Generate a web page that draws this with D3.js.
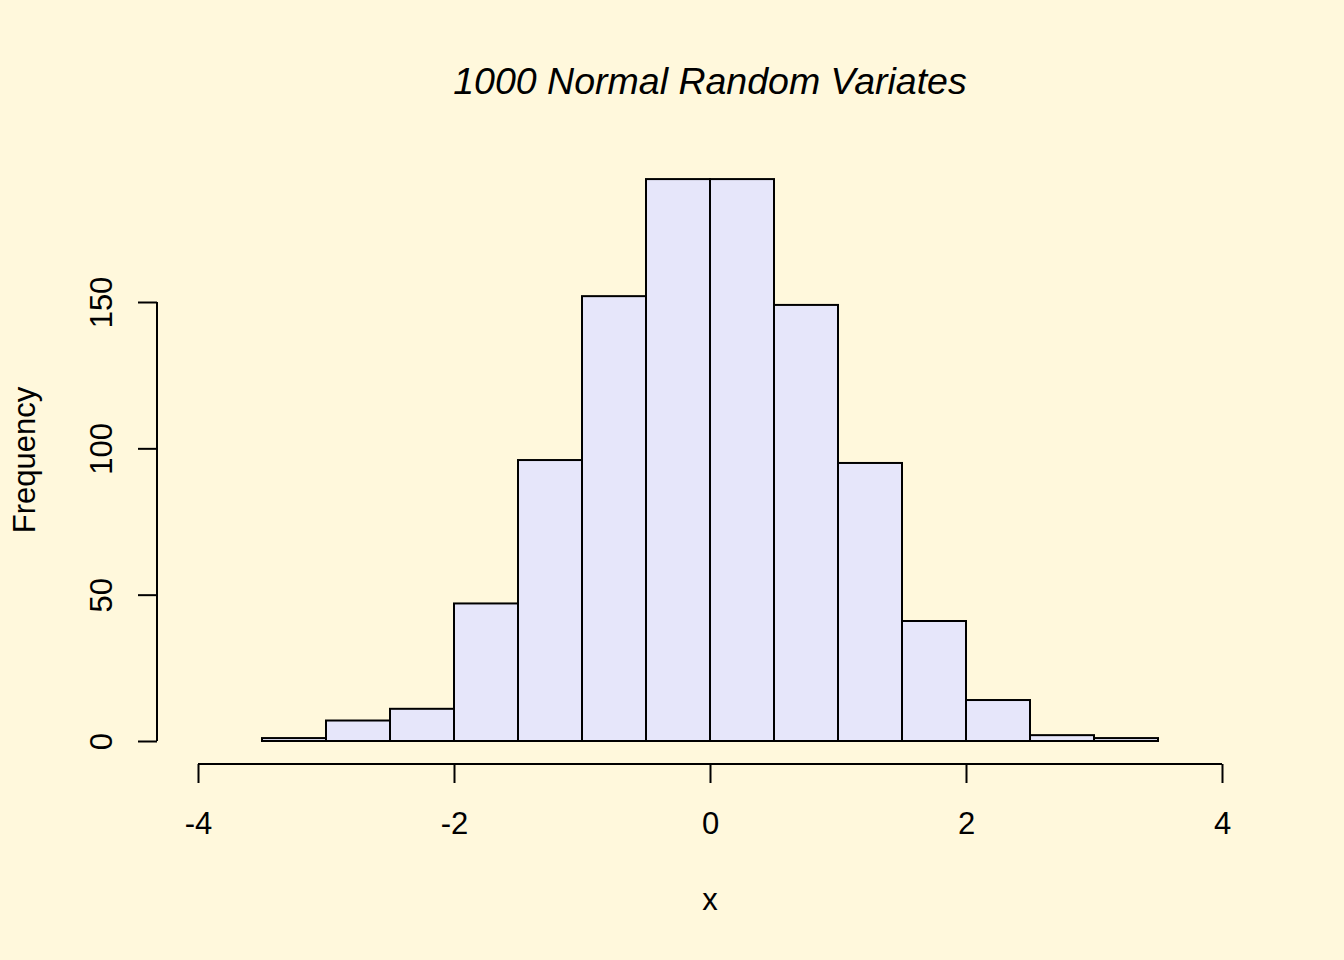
<!DOCTYPE html>
<html><head><meta charset="utf-8">
<script src="https://cdn.jsdelivr.net/npm/d3@7"></script>
<style>body{margin:0;background:#FFF8DC;} svg{display:block;}</style>
</head><body>
<script>
const binStarts = [-3.5,-3,-2.5,-2,-1.5,-1,-0.5,0,0.5,1,1.5,2,2.5,3];
const binWidth = 0.5;
const counts = [1,7,11,47,96,152,192,192,149,95,41,14,2,1];
const xTicks = [-4,-2,0,2,4];
const yTicks = [0,50,100,150];
const title = "1000 Normal Random Variates";
const xLabel = "x", yLabel = "Frequency";

const W = 1344, H = 960;
const svg = d3.select("body").append("svg").attr("width", W).attr("height", H);
svg.append("rect").attr("width", W).attr("height", H).attr("fill", "#FFF8DC");

const x = d3.scaleLinear().domain([-4, 4]).range([198, 1222]);
const y = d3.scaleLinear().domain([0, 150]).range([741, 302]);
const font = "Liberation Sans, Arial, sans-serif";
const fs = 31;

svg.append("g").selectAll("rect").data(binStarts).join("rect")
  .attr("x", (d) => x(d))
  .attr("width", (d) => x(d + binWidth) - x(d))
  .attr("y", (d, i) => y(counts[i]))
  .attr("height", (d, i) => y(0) - y(counts[i]))
  .attr("fill", "#E6E6FA").attr("stroke", "#000").attr("stroke-width", 2);

// x axis
const gx = svg.append("g").attr("transform", "translate(0,764)")
  .call(d3.axisBottom(x).tickValues(xTicks).tickSize(19).tickFormat(d3.format("d")));
gx.select(".domain").attr("stroke-width", 2).attr("d", `M${x(-4)},0H${x(4)}`);
gx.selectAll(".tick line").attr("stroke-width", 2);
gx.selectAll("text").attr("font-family", font).attr("font-size", fs).attr("fill", "#000")
  .attr("y", 69.5).attr("dy", 0)
  .text(d => d < 0 ? "-" + Math.abs(d) : d);

// y axis
const gy = svg.append("g").attr("transform", "translate(157,0)")
  .call(d3.axisLeft(y).tickValues(yTicks).tickSize(19));
gy.select(".domain").attr("stroke-width", 2).attr("d", `M0,${y(0)}V${y(150)}`);
gy.selectAll(".tick line").attr("stroke-width", 2);
gy.selectAll("text").attr("font-family", font).attr("font-size", fs).attr("fill", "#000")
  .attr("transform", "rotate(-90)").attr("x", 0).attr("y", -45.5).attr("dy", 0)
  .attr("text-anchor", "middle");

svg.append("text").attr("x", 710).attr("y", 93.5).attr("text-anchor", "middle")
  .attr("font-family", font).attr("font-size", 37.5).attr("font-style", "italic").text(title);
svg.append("text").attr("x", 710).attr("y", 910).attr("text-anchor", "middle")
  .attr("font-family", font).attr("font-size", fs).text(xLabel);
svg.append("text").attr("transform", "translate(35,460) rotate(-90)").attr("text-anchor", "middle")
  .attr("font-family", font).attr("font-size", fs).text(yLabel);
</script>
</body></html>
